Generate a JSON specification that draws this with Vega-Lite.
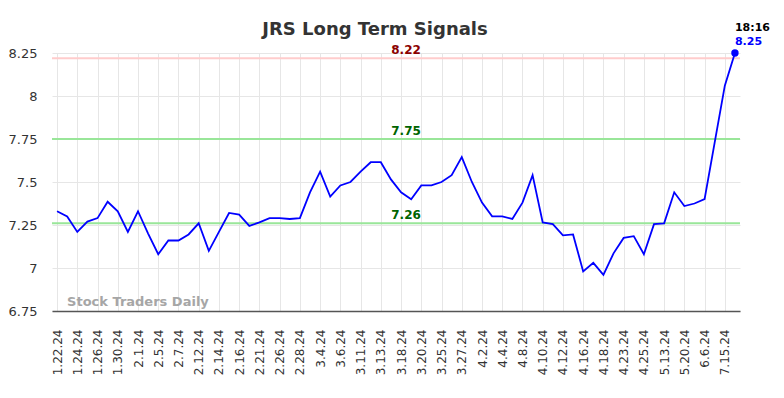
{
  "$schema": "https://vega.github.io/schema/vega-lite/v6.json",
  "autosize": "none",
  "width": 688,
  "height": 258,
  "padding": {"left": 52, "top": 53, "right": 44, "bottom": 87},
  "background": "white",
  "config": {
    "view": {"stroke": null},
    "font": "DejaVu Sans",
    "axis": {"gridColor": "#e6e6e6", "gridWidth": 1, "labelFont": "DejaVu Sans", "labelColor": "#333333", "ticks": false}
  },
  "title": {
    "text": "JRS Long Term Signals",
    "font": "DejaVu Sans",
    "fontSize": 18,
    "fontWeight": "bold",
    "color": "#333333",
    "anchor": "middle",
    "dx": -21,
    "baseline": "alphabetic",
    "offset": -31
  },
  "datasets": {
    "prices": [
      {"date": "1.22.24", "value": 7.33},
      {"date": "1.23.24", "value": 7.30},
      {"date": "1.24.24", "value": 7.21},
      {"date": "1.25.24", "value": 7.27},
      {"date": "1.26.24", "value": 7.29},
      {"date": "1.29.24", "value": 7.385},
      {"date": "1.30.24", "value": 7.33},
      {"date": "1.31.24", "value": 7.21},
      {"date": "2.1.24", "value": 7.33},
      {"date": "2.2.24", "value": 7.20},
      {"date": "2.5.24", "value": 7.08},
      {"date": "2.6.24", "value": 7.16},
      {"date": "2.7.24", "value": 7.16},
      {"date": "2.8.24", "value": 7.195},
      {"date": "2.12.24", "value": 7.26},
      {"date": "2.13.24", "value": 7.10},
      {"date": "2.14.24", "value": 7.21},
      {"date": "2.15.24", "value": 7.32},
      {"date": "2.16.24", "value": 7.31},
      {"date": "2.20.24", "value": 7.245},
      {"date": "2.21.24", "value": 7.265},
      {"date": "2.22.24", "value": 7.29},
      {"date": "2.26.24", "value": 7.29},
      {"date": "2.27.24", "value": 7.285},
      {"date": "2.28.24", "value": 7.29},
      {"date": "2.29.24", "value": 7.44},
      {"date": "3.4.24", "value": 7.56},
      {"date": "3.5.24", "value": 7.415},
      {"date": "3.6.24", "value": 7.48},
      {"date": "3.7.24", "value": 7.50},
      {"date": "3.11.24", "value": 7.56},
      {"date": "3.12.24", "value": 7.615},
      {"date": "3.13.24", "value": 7.615},
      {"date": "3.14.24", "value": 7.515},
      {"date": "3.18.24", "value": 7.44},
      {"date": "3.19.24", "value": 7.40},
      {"date": "3.20.24", "value": 7.48},
      {"date": "3.21.24", "value": 7.48},
      {"date": "3.25.24", "value": 7.50},
      {"date": "3.26.24", "value": 7.54},
      {"date": "3.27.24", "value": 7.645},
      {"date": "3.28.24", "value": 7.50},
      {"date": "4.2.24", "value": 7.38},
      {"date": "4.3.24", "value": 7.30},
      {"date": "4.4.24", "value": 7.30},
      {"date": "4.5.24", "value": 7.285},
      {"date": "4.8.24", "value": 7.38},
      {"date": "4.9.24", "value": 7.54},
      {"date": "4.10.24", "value": 7.265},
      {"date": "4.11.24", "value": 7.255},
      {"date": "4.12.24", "value": 7.19},
      {"date": "4.15.24", "value": 7.195},
      {"date": "4.16.24", "value": 6.98},
      {"date": "4.17.24", "value": 7.03},
      {"date": "4.18.24", "value": 6.96},
      {"date": "4.22.24", "value": 7.085},
      {"date": "4.23.24", "value": 7.175},
      {"date": "4.24.24", "value": 7.185},
      {"date": "4.25.24", "value": 7.08},
      {"date": "5.6.24", "value": 7.255},
      {"date": "5.13.24", "value": 7.26},
      {"date": "5.16.24", "value": 7.44},
      {"date": "5.20.24", "value": 7.36},
      {"date": "5.28.24", "value": 7.375},
      {"date": "6.6.24", "value": 7.40},
      {"date": "6.24.24", "value": 7.73},
      {"date": "7.15.24", "value": 8.06},
      {"date": "7.19.24", "value": 8.25}
    ],
    "levels": [
      {"level": 8.22, "kind": "high"},
      {"level": 7.75, "kind": "mid"},
      {"level": 7.26, "kind": "low"}
    ],
    "last": [
      {"date": "7.19.24", "value": 8.25, "time": "18:16"}
    ]
  },
  "encoding": {
    "x": {
      "field": "date",
      "type": "ordinal",
      "scale": {
        "type": "point",
        "padding": 0.5,
        "domain": ["1.22.24","1.23.24","1.24.24","1.25.24","1.26.24","1.29.24","1.30.24","1.31.24","2.1.24","2.2.24","2.5.24","2.6.24","2.7.24","2.8.24","2.12.24","2.13.24","2.14.24","2.15.24","2.16.24","2.20.24","2.21.24","2.22.24","2.26.24","2.27.24","2.28.24","2.29.24","3.4.24","3.5.24","3.6.24","3.7.24","3.11.24","3.12.24","3.13.24","3.14.24","3.18.24","3.19.24","3.20.24","3.21.24","3.25.24","3.26.24","3.27.24","3.28.24","4.2.24","4.3.24","4.4.24","4.5.24","4.8.24","4.9.24","4.10.24","4.11.24","4.12.24","4.15.24","4.16.24","4.17.24","4.18.24","4.22.24","4.23.24","4.24.24","4.25.24","5.6.24","5.13.24","5.16.24","5.20.24","5.28.24","6.6.24","6.24.24","7.15.24","7.19.24"]
      },
      "axis": {
        "title": null,
        "values": ["1.22.24","1.24.24","1.26.24","1.30.24","2.1.24","2.5.24","2.7.24","2.12.24","2.14.24","2.16.24","2.21.24","2.26.24","2.28.24","3.4.24","3.6.24","3.11.24","3.13.24","3.18.24","3.20.24","3.25.24","3.27.24","4.2.24","4.4.24","4.8.24","4.10.24","4.12.24","4.16.24","4.18.24","4.23.24","4.25.24","5.13.24","5.20.24","6.6.24","7.15.24"],
        "labelAngle": -90,
        "labelFontSize": 12,
        "labelPadding": 18,
        "grid": true,
        "domain": true,
        "domainColor": "#555555",
        "domainWidth": 1.5
      }
    },
    "y": {
      "field": "value",
      "type": "quantitative",
      "scale": {"domain": [6.75, 8.25], "nice": false, "zero": false},
      "axis": {
        "title": null,
        "values": [6.75, 7, 7.25, 7.5, 7.75, 8, 8.25],
        "format": ".3~g",
        "labelFontSize": 13,
        "labelPadding": 15,
        "domain": false,
        "grid": true
      }
    }
  },
  "layer": [
    {
      "data": {"name": "levels"},
      "mark": {"type": "rule", "strokeWidth": 2},
      "encoding": {
        "x": null,
        "y": {"field": "level", "type": "quantitative"},
        "stroke": {
          "field": "kind",
          "type": "nominal",
          "scale": {"domain": ["high", "mid", "low"], "range": ["#ffcccc", "#99e699", "#99e699"]},
          "legend": null
        }
      }
    },
    {
      "data": {"name": "levels"},
      "mark": {"type": "text", "fontWeight": "bold", "fontSize": 12, "align": "center", "baseline": "alphabetic", "dy": -4, "dx": 5},
      "encoding": {
        "x": {"datum": "3.18.24"},
        "y": {"field": "level", "type": "quantitative"},
        "text": {"field": "level", "type": "quantitative", "format": ".2f"},
        "fill": {
          "field": "kind",
          "type": "nominal",
          "scale": {"domain": ["high", "mid", "low"], "range": ["#8b0000", "#006400", "#006400"]},
          "legend": null
        }
      }
    },
    {
      "data": {"name": "prices"},
      "mark": {"type": "line", "color": "#0000ff", "strokeWidth": 1.8}
    },
    {
      "data": {"name": "prices"},
      "transform": [{"filter": "datum.date == '1.22.24'"}],
      "mark": {"type": "text", "fontWeight": "bold", "fontSize": 13, "fill": "#a6a6a6", "align": "left", "baseline": "alphabetic", "dx": 10, "dy": -5},
      "encoding": {
        "y": {"datum": 6.75},
        "text": {"value": "Stock Traders Daily"}
      }
    },
    {
      "data": {"name": "last"},
      "mark": {"type": "point", "filled": true, "color": "#0000ff", "size": 55, "opacity": 1}
    },
    {
      "data": {"name": "last"},
      "mark": {"type": "text", "fontWeight": "bold", "fontSize": 11, "color": "#0000ff", "align": "left", "baseline": "alphabetic", "dy": -8},
      "encoding": {"text": {"field": "value", "type": "quantitative", "format": ".2f"}}
    },
    {
      "data": {"name": "last"},
      "mark": {"type": "text", "fontWeight": "bold", "fontSize": 11, "color": "#000000", "align": "left", "baseline": "alphabetic", "dy": -22},
      "encoding": {"text": {"field": "time", "type": "nominal"}}
    }
  ]
}
